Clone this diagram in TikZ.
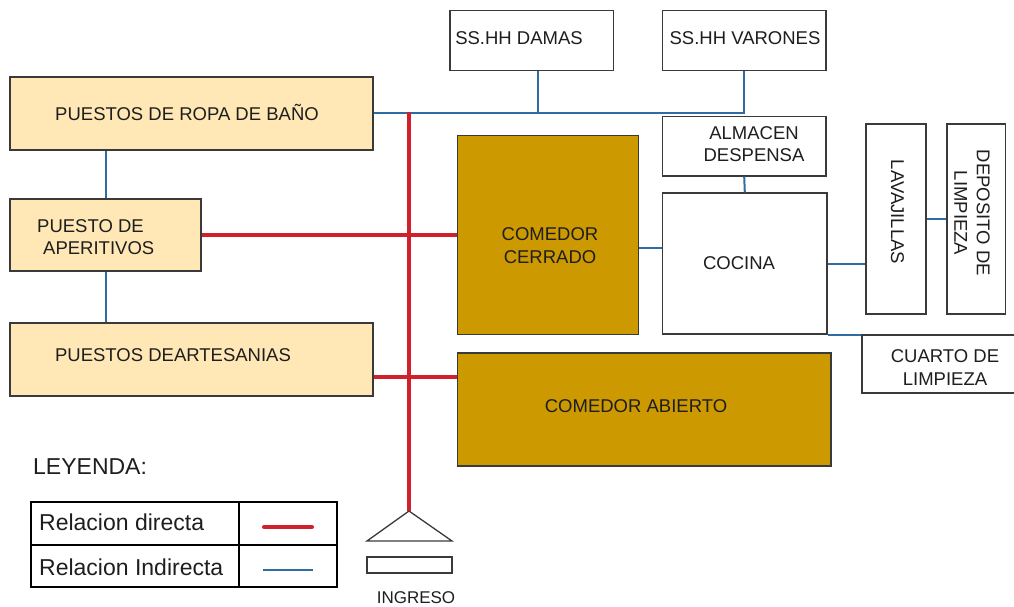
\documentclass[tikz,border=0pt]{standalone}
\usepackage{fontspec}
\setmainfont{Liberation Sans}
\definecolor{lightfill}{HTML}{FFE8B6}
\definecolor{darkfill}{HTML}{CC9900}
\definecolor{boxline}{HTML}{3A3A3A}
\definecolor{dirred}{HTML}{D0202C}
\definecolor{indblue}{HTML}{2E6DA4}
\definecolor{txt}{HTML}{1E1E1E}
\tikzset{
  room/.style={draw=boxline, line width=1.3pt, inner sep=0pt, fill=white},
  lightroom/.style={room, fill=lightfill},
  darkroom/.style={room, fill=darkfill},
  lbl/.style={inner sep=0pt, text=txt, align=center, font=\fontsize{18.5}{22.5}\selectfont},
  direct/.style={draw=dirred, line width=4pt},
  indirect/.style={draw=indblue, line width=2pt},
}
\begin{document}
\begin{tikzpicture}[x=1pt,y=-1pt]
\useasboundingbox (0,0) rectangle (1014,607);
% boxes
\node[lightroom, minimum width=363, minimum height=73] (ropa) at (191.5,113.5) {};
\node[lightroom, minimum width=191, minimum height=72] (aper) at (105.5,235) {};
\node[lightroom, minimum width=363, minimum height=73] (arte) at (191.5,359.5) {};
\node[room, minimum width=163.5, minimum height=60] (damas) at (531.8,40.7) {};
\node[room, minimum width=163.5, minimum height=60] (varones) at (744.2,40.7) {};
\node[room, minimum width=163.5, minimum height=59.3] (almacen) at (744.2,146.3) {};
\node[room, minimum width=164.5, minimum height=141] (cocina) at (744.8,263.5) {};
\node[darkroom, minimum width=181.2, minimum height=198.6] (cerrado) at (548.2,235) {};
\node[room, minimum width=60, minimum height=190] (lav) at (896,219) {};
\node[room, minimum width=58.5, minimum height=190] (dep) at (976.2,219) {};
\node[room, minimum width=163, minimum height=58] (cuarto) at (943.5,364) {};
\node[darkroom, minimum width=373.7, minimum height=113] (abierto) at (644.2,409.5) {};
% labels
\node[lbl] (t-ropa) at (187,112) {PUESTOS DE ROPA DE BAÑO};
\node[lbl, align=left, anchor=west] (t-aper) at (37,237) {PUESTO DE\\\hspace*{6pt}APERITIVOS};
\node[lbl] (t-arte) at (173,355) {PUESTOS DEARTESANIAS};
\node[lbl] (t-damas) at (519,38) {SS.HH DAMAS};
\node[lbl] (t-varones) at (745,38) {SS.HH VARONES};
\node[lbl] (t-almacen) at (754,144) {ALMACEN\\DESPENSA};
\node[lbl] (t-cerrado) at (550,245.5) {COMEDOR\\CERRADO};
\node[lbl] (t-cocina) at (739,263) {COCINA};
\node[lbl, rotate=-90] (t-lav) at (897.5,212) {LAVAJILLAS};
\node[lbl, rotate=-90] (t-dep) at (972,213) {DEPOSITO DE\\LIMPIEZA};
\node[lbl] (t-cuarto) at (945,367.5) {CUARTO DE\\LIMPIEZA};
\node[lbl] (t-abierto) at (636,406) {COMEDOR ABIERTO};
% indirect connectors
\draw[indirect] (ropa.east) -- (ropa.east -| varones.south) -- (varones.south);
\draw[indirect] ([xshift=6pt]damas.south) -- ([xshift=6pt]damas.south |- ropa.east);
\draw[indirect] (aper.north |- ropa.south) -- (aper.north);
\draw[indirect] (aper.south) -- (aper.south |- arte.north);
\draw[indirect] ([yshift=-13pt]cerrado.east) -- ([yshift=-13pt]cerrado.east -| cocina.west);
\draw[indirect] (almacen.south) -- (cocina.north);
\draw[indirect] (cocina.east) -- (cocina.east -| lav.west);
\draw[indirect] (lav.east) -- (dep.west);
\draw[indirect] (cocina.south east) -- (cocina.south east -| cuarto.north west);
% entrance
\coordinate (rtop) at (409,112);
\coordinate (apex) at (409,511);
\draw[draw=boxline, line width=1.3pt, line join=miter] (apex) -- (452,541) -- (367,541) -- cycle;
\node[draw=boxline, line width=1.3pt, inner sep=0pt, minimum width=85, minimum height=16] (mat) at (409.5,565) {};
\node[inner sep=0pt, text=txt, font=\fontsize{17}{20}\selectfont] (t-ingreso) at (416,598) {INGRESO};
% direct connectors
\draw[direct] (rtop) -- (apex);
\draw[direct] (aper.east) -- (aper.east -| cerrado.west);
\draw[direct] ([yshift=-17.5pt]arte.east) -- ([yshift=-17.5pt]arte.east -| abierto.west);
% legend
\node[inner sep=0pt, anchor=west, text=txt, font=\fontsize{23}{27}\selectfont] (t-leyenda) at (33,467) {LEYENDA:};
\node[draw=black, line width=1.7pt, inner sep=0pt, minimum width=306, minimum height=85] (legend) at (184,544.5) {};
\coordinate (lmidl) at (31,545);
\coordinate (lmidr) at (337,545);
\coordinate (ldivt) at (239,502);
\coordinate (ldivb) at (239,587);
\draw[black, line width=1.7pt] (lmidl) -- (lmidr);
\draw[black, line width=1.7pt] (ldivt) -- (ldivb);
\node[inner sep=0pt, anchor=west, text=txt, font=\fontsize{23}{27}\selectfont] (t-dir) at (39,522) {Relacion directa};
\node[inner sep=0pt, anchor=west, text=txt, font=\fontsize{23}{27}\selectfont] (t-ind) at (39,567) {Relacion Indirecta};
\coordinate (sd1) at (264,527);
\coordinate (sd2) at (312,527);
\coordinate (si1) at (263,570);
\coordinate (si2) at (313,570);
\draw[direct, line cap=round] (sd1) -- (sd2);
\draw[indirect] (si1) -- (si2);
\end{tikzpicture}
\end{document}
